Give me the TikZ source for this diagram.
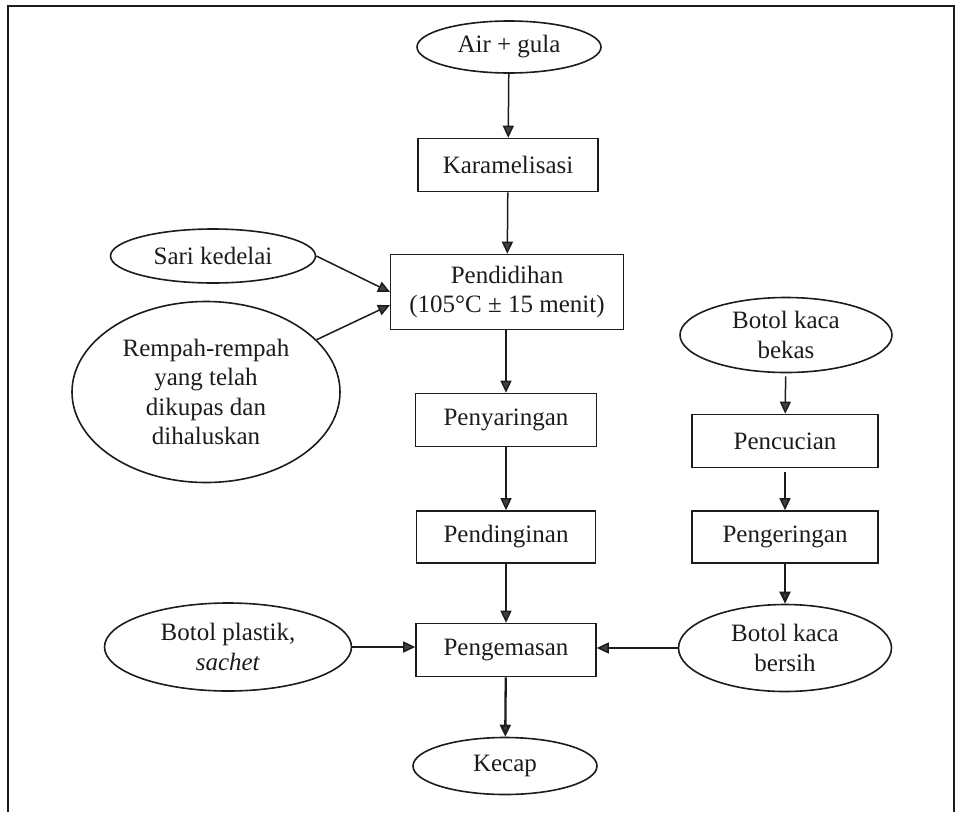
\documentclass[tikz,border=0pt]{standalone}
\usepackage{fontspec}
\setmainfont{Liberation Serif}
\usetikzlibrary{arrows.meta,shapes.geometric}
\definecolor{ink}{HTML}{1C1C1C}
\definecolor{tipc}{HTML}{404040}
\begin{document}
\begin{tikzpicture}[x=1pt,y=-1pt,
  every node/.style={font=\fontsize{25}{29.5}\selectfont, text=ink},
  proc/.style={draw=ink, line width=1.6pt, rectangle, inner sep=0pt, align=center},
  ell/.style={draw=ink, line width=1.6pt, ellipse, inner sep=0pt, align=center},
  arr/.style={draw=ink, line width=1.5pt, -{Triangle[length=12pt,width=11pt,fill=tipc]}},
  arrthick/.style={arr, line width=2.3pt},
  frame/.style={draw=ink, line width=1.7pt}]
\useasboundingbox (0,0) rectangle (956,812);
\draw[frame] (8,812) -- (8,6) -- (954,6) -- (954,812);

\node[ell, minimum width=184pt, minimum height=52pt] (air) at (509,47) {Air + gula};
\node[proc, minimum width=180pt, minimum height=53pt] (kar) at (508,165) {Karamelisasi};
\node[proc, minimum width=233pt, minimum height=75pt] (pend) at (507,292) {Pendidihan\\(105°C ± 15 menit)};
\node[ell, minimum width=205pt, minimum height=54pt] (sari) at (213,256) {Sari kedelai};
\node[ell, minimum width=268pt, minimum height=181pt] (rem) at (206,392) {Rempah-rempah\\yang telah\\dikupas dan\\dihaluskan};
\node[proc, minimum width=181pt, minimum height=53pt] (peny) at (506,420) {Penyaringan};
\node[proc, minimum width=179pt, minimum height=52pt] (pendg) at (506,537) {Pendinginan};
\node[proc, minimum width=180pt, minimum height=53pt] (peng) at (506,650) {Pengemasan};
\node[ell, minimum width=184pt, minimum height=57pt] (kecap) at (505,766) {Kecap};
\node[ell, minimum width=247pt, minimum height=88pt] (plast) at (228,647) {Botol plastik,\\\textit{sachet}};
\node[ell, minimum width=212pt, minimum height=75pt] (bekas) at (786,335) {Botol kaca\\bekas};
\node[proc, minimum width=186pt, minimum height=53pt] (cuci) at (785,441) {Pencucian};
\node[proc, minimum width=186pt, minimum height=52pt] (kering) at (785,537) {Pengeringan};
\node[ell, minimum width=213pt, minimum height=87pt] (bersih) at (785,648) {Botol kaca\\bersih};

\coordinate (pw1) at (390,292);
\coordinate (pw2) at (390,305);

\draw[arr] (air) -- (kar);
\draw[arr] (kar) -- (pend);
\draw[arr] (sari.east) -- (pw1);
\draw[arr] (rem) -- (pw2);
\draw[arr] (pend.south -| peny.north) -- (peny.north);
\draw[arr] (peny) -- (pendg);
\draw[arr] (pendg) -- (peng);
\draw[arrthick] (peng) -- (kecap);
\draw[arr] (plast.east) -- (peng.west |- plast.east);
\draw[arr, shorten <=3pt] (bekas) -- (cuci);
\draw[arr, shorten <=4pt] (cuci) -- (kering);
\draw[arrthick] (kering) -- (bersih);
\draw[arr] (bersih.west) -- (peng.east |- bersih.west);
\end{tikzpicture}
\end{document}
